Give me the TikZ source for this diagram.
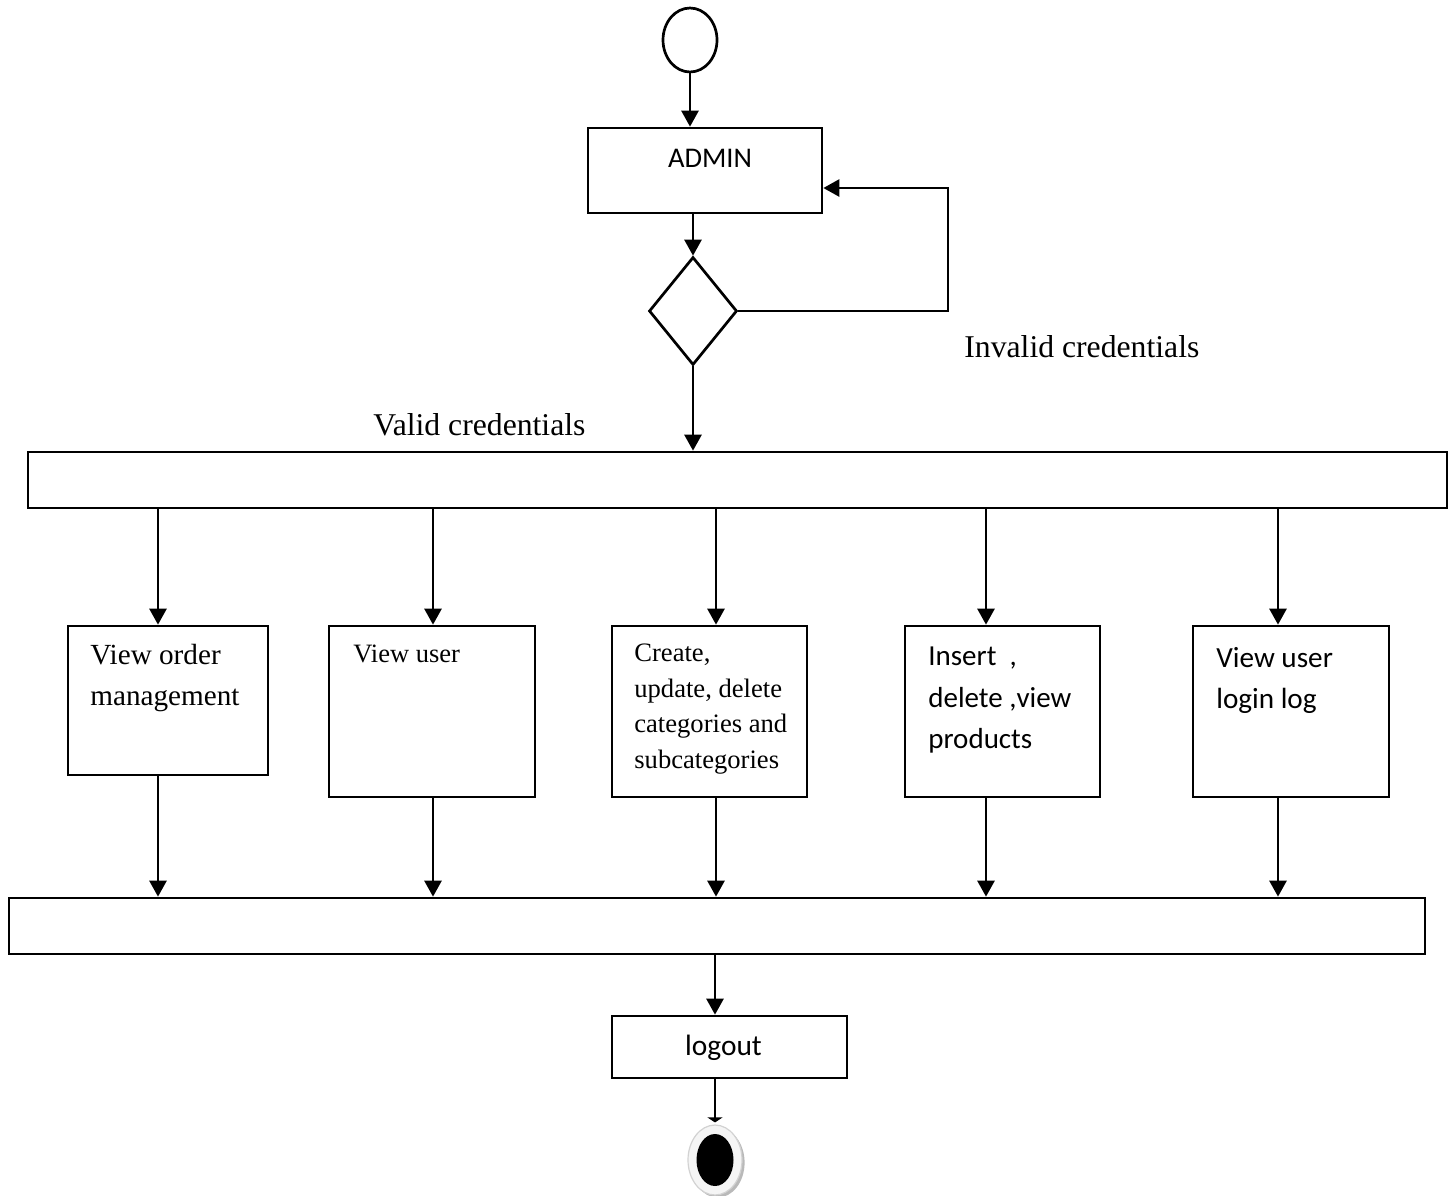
\documentclass[tikz,border=0pt]{standalone}
\usepackage{fontspec}
\setmainfont{Liberation Serif}
\newfontfamily\calfont{Carlito}
\usetikzlibrary{arrows.meta,shapes.geometric,shadows}
\begin{document}
\begin{tikzpicture}[x=0.5pt,y=-0.5pt,line width=1.35pt,
  boxnode/.style={draw,rectangle,inner sep=0pt,minimum width=#1},
  tallbox/.style={boxnode=#1,minimum height=85.5pt},
  barnode/.style={draw,rectangle,inner sep=0pt,minimum width=#1,minimum height=28pt},
  txt/.style={inner sep=0pt,align=left,anchor=north west},
  lbl/.style={inner sep=0pt,anchor=base west,font=\fontsize{15.85pt}{19pt}\selectfont},
  arr/.style={-{Triangle[length=8pt,width=8.5pt]}},
  flatarr/.style={-{Triangle[length=2.5pt,width=7.5pt]}},
  startnode/.style={draw,ellipse,inner sep=0pt,minimum width=27pt,minimum height=32pt},
  endnode/.style={ellipse,inner sep=0pt,minimum width=27pt,minimum height=35pt,
    fill=gray!8,draw=gray!35,line width=0.6pt,
    drop shadow={shadow xshift=1.3pt,shadow yshift=-1.3pt,fill=gray!55,opacity=1},
    path picture={\fill[black] (path picture bounding box.center) ellipse[x radius=9.25pt,y radius=13pt];}},
  decnode/.style={draw,diamond,inner sep=0pt,minimum width=44pt,minimum height=54pt}
]
\useasboundingbox (0,0) rectangle (1451,1195);

% nodes
\node[startnode] (start) at (690,40) {};
\node[boxnode=117pt,text height=19.5pt,text depth=23pt,font=\calfont\fontsize{14.25pt}{17pt}\selectfont] (admin) at (705,170.5) {\hspace{5pt}ADMIN};
\node[decnode] (dec) at (693,311) {};
\coordinate (loop) at (948,188);
\node[lbl] (inv) at (963,357) {Invalid credentials};
\node[lbl] (val) at (372,435) {Valid credentials};

\node[barnode=709.5pt] (bar1) at (737.5,480) {};

\node[boxnode=100pt,minimum height=74.5pt] (b1) at (168,700.5) {};
\node[tallbox=103pt] (b2) at (432,711.5) {};
\node[tallbox=97.5pt] (b3) at (709.5,711.5) {};
\node[tallbox=97.5pt] (b4) at (1002.5,711.5) {};
\node[tallbox=98pt] (b5) at (1291,711.5) {};

\node[txt,font=\fontsize{14.6pt}{20.5pt}\selectfont] (t1) at (89,643) {View order\\management};
\node[txt,font=\fontsize{13.25pt}{16pt}\selectfont] (t2) at (352,644) {View user};
\node[txt,font=\fontsize{13.3pt}{17.75pt}\selectfont] (t3) at (633,643) {Create,\\update, delete\\categories and\\subcategories};
\node[txt,font=\calfont\fontsize{14.5pt}{20.75pt}\selectfont] (t4) at (927,646) {Insert\ \ ,\\delete ,view\\products};
\node[txt,font=\calfont\fontsize{14.6pt}{20.75pt}\selectfont] (t5) at (1215,646) {View user\\login log};

\node[barnode=708pt] (bar2) at (717,926) {};

\node[boxnode=117.5pt,text height=19.5pt,text depth=11.5pt,font=\calfont\fontsize{14.7pt}{17pt}\selectfont] (logout) at (729.5,1047) {logout\kern6pt\relax};
\node[endnode] (end) at (715,1160) {};

\coordinate (c1) at (158,0);
\coordinate (c2) at (433,0);
\coordinate (c3) at (716,0);
\coordinate (c4) at (986,0);
\coordinate (c5) at (1278,0);

% connectors
\draw[arr] (start.south) -- (start.south |- admin.north);
\draw[arr] (dec.north |- admin.south) -- (dec.north);
\draw[arr] (dec.east) -| (loop) -- (loop -| admin.east);
\draw[arr] (dec.south) -- (dec.south |- bar1.north);

\draw[arr] (bar1.south -| c1) -- (b1.north -| c1);
\draw[arr] (bar1.south -| c2) -- (b2.north -| c2);
\draw[arr] (bar1.south -| c3) -- (b3.north -| c3);
\draw[arr] (bar1.south -| c4) -- (b4.north -| c4);
\draw[arr] (bar1.south -| c5) -- (b5.north -| c5);

\draw[arr] (b1.south -| c1) -- (bar2.north -| c1);
\draw[arr] (b2.south -| c2) -- (bar2.north -| c2);
\draw[arr] (b3.south -| c3) -- (bar2.north -| c3);
\draw[arr] (b4.south -| c4) -- (bar2.north -| c4);
\draw[arr] (b5.south -| c5) -- (bar2.north -| c5);

\draw[arr] (bar2.south -| end.north) -- (logout.north -| end.north);
\draw[flatarr] (logout.south -| end.north) -- ([yshift=1pt]end.north);
\end{tikzpicture}
\end{document}
